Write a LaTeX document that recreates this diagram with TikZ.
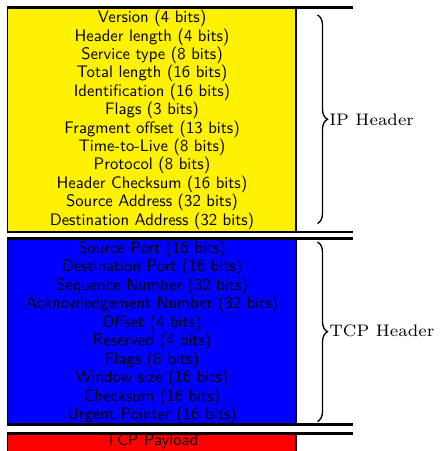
\documentclass[tikz,border=0pt]{standalone}
\usetikzlibrary{decorations.pathreplacing}
\begin{document}
\begin{tikzpicture}[x=0.6pt,y=-0.6pt,
  heavy/.style={line width=1.6pt},
  edgeline/.style={line width=0.75pt},
  field/.style={font=\sffamily, inner sep=0pt, anchor=base},
  hbrace/.style={decorate, decoration={brace, amplitude=6pt}, line width=0.8pt},
  hlabel/.style={anchor=west, inner sep=0pt}]
\useasboundingbox (0,0) rectangle (439,451);
\clip (0,0) rectangle (439,451);
% fills
\fill[yellow] (7.5,7.5) rectangle (296,232);
\fill[blue] (7.5,238.3) rectangle (296,424.5);
\fill[red] (7.5,433.3) rectangle (296,470);
% left thin edges
\draw[edgeline] (7.5,7.5) -- (7.5,232);
\draw[edgeline] (7.5,238.3) -- (7.5,424.5);
\draw[edgeline] (7.5,433.3) -- (7.5,470);
% right heavy edges
\draw[heavy] (296,7.5) -- (296,232);
\draw[heavy] (296,238.3) -- (296,424.5);
\draw[heavy] (296,433.3) -- (296,470);
% horizontal heavy lines
\draw[heavy] (7,7.5) -- (353,7.5);
\draw[heavy] (7,232) -- (353,232);
\draw[heavy] (7,238.3) -- (353,238.3);
\draw[heavy] (7,424.5) -- (353,424.5);
\draw[heavy] (7,433.3) -- (353,433.3);
% IP fields
\foreach \t [count=\i] in {Version (4 bits), Header length (4 bits), Service type (8 bits), Total length (16 bits), Identification (16 bits), Flags (3 bits), Fragment offset (13 bits), Time-to-Live (8 bits), Protocol (8 bits), Header Checksum (16 bits), Source Address (32 bits), Destination Address (32 bits)}
  \node[field] (ip\i) at (152,{22.7+18.4*(\i-1)}) {\t};
% TCP fields
\foreach \t [count=\i] in {Source Port (16 bits), Destination Port (16 bits), Sequence Number (32 bits), Acknowledgement Number (32 bits), Offset (4 bits), Reserved (4 bits), Flags (8 bits), Window size (16 bits), Checksum (16 bits), Urgent Pointer (16 bits)}
  \node[field] (tcp\i) at (152,{253.3+18.5*(\i-1)}) {\t};
\node[field] (payload) at (152,445) {TCP Payload};
% braces
\draw[hbrace] (317.5,15) -- (317.5,223.5);
\draw[hbrace] (317.5,242) -- (317.5,421.5);
\node[hlabel] (iph) at (329,120) {\scalebox{1.43}{\fontsize{7}{8}\selectfont IP Header}};
\node[hlabel] (tcph) at (329,331) {\scalebox{1.43}{\fontsize{7}{8}\selectfont TCP Header}};
\end{tikzpicture}
\end{document}
